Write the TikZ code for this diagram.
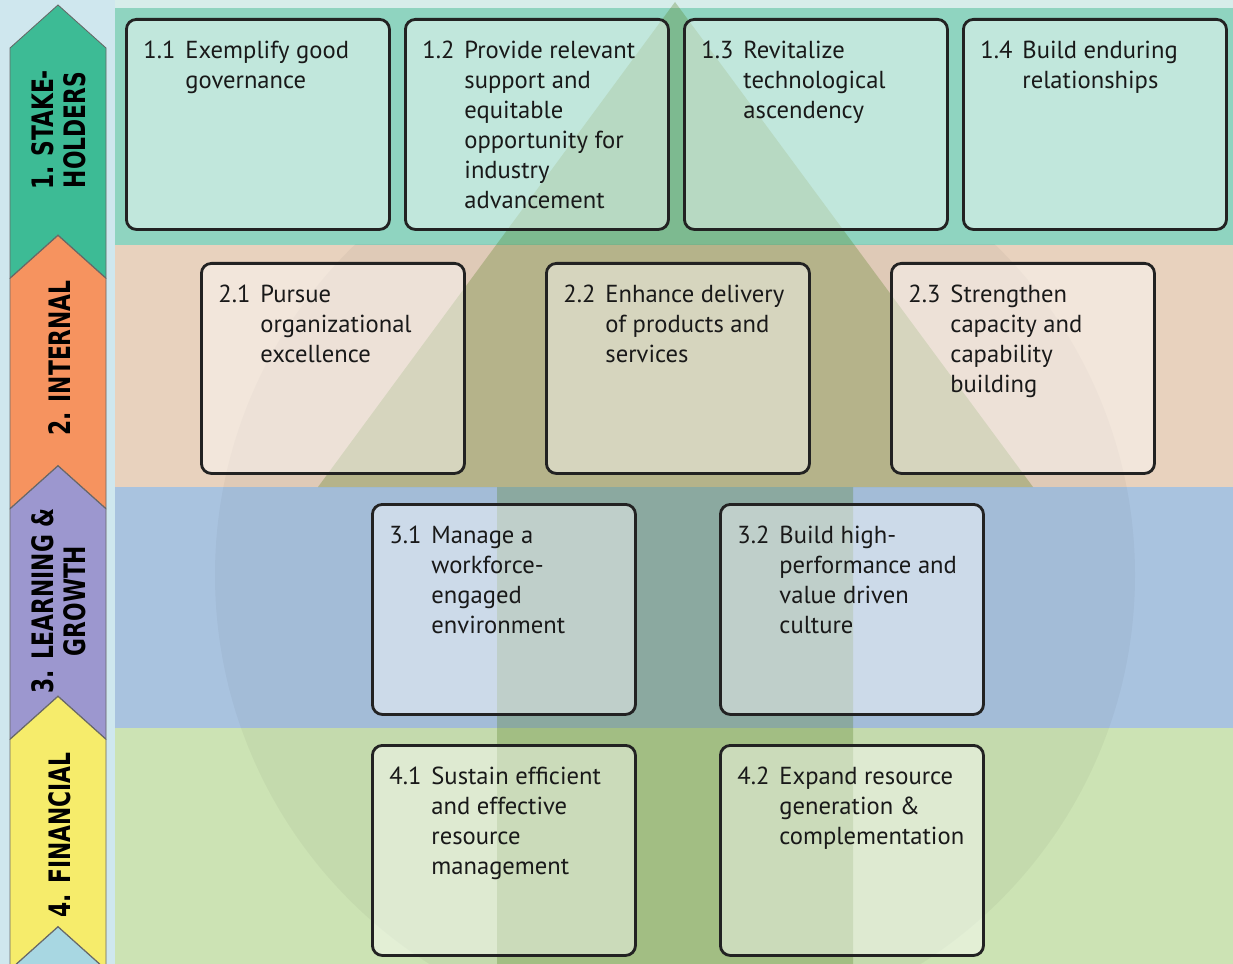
\documentclass[tikz,border=0pt]{standalone}
\usepackage{fontspec}
\setmainfont{PT Sans}
\newfontfamily\chevfont[FakeStretch=0.82]{DejaVu Sans Condensed Bold}

\definecolor{leftbg}{HTML}{CFE7EE}
\definecolor{topstrip}{HTML}{D6EDEA}
\definecolor{bandteal}{HTML}{8FD4C0}
\definecolor{bandtan}{HTML}{E8D2BE}
\definecolor{bandblue}{HTML}{A9C3DF}
\definecolor{bandgreen}{HTML}{CCE3B4}
\definecolor{arrowgreen}{HTML}{557F22}
\definecolor{chevteal}{HTML}{3DBB95}
\definecolor{chevorange}{HTML}{F6935F}
\definecolor{chevpurple}{HTML}{9C97CF}
\definecolor{chevyellow}{HTML}{F6EC6B}
\definecolor{chevblue}{HTML}{A8D7E2}
\definecolor{boxline}{HTML}{222222}

% goal box contents: number, then the text hung beside it
\newcommand{\goal}[2]{%
  \begin{minipage}[t][5.25cm][t]{6.575cm}
    \vspace*{0.45cm}%
    \hspace*{0.425cm}\makebox[1.05cm][l]{#1}\begin{tabular}[t]{@{}l@{}}#2\end{tabular}
  \end{minipage}}

\tikzset{
  goalbox/.style={draw=boxline, line width=2pt, rounded corners=0.25cm,
    fill=white, fill opacity=0.45, text opacity=1, anchor=north west,
    inner sep=0pt, text=black!90, font=\fontsize{17.5}{21.3}\selectfont},
  chevlabel/.style={rotate=90, align=center, text=black,
    font=\chevfont\fontsize{21}{23}\selectfont}
}

\begin{document}
\begin{tikzpicture}[x=0.025cm, y=-0.025cm]
        \clip (0,0) rectangle (1233,964);

        % Background bands
        \fill[leftbg] (0,0) rectangle (115,964);
        \fill[topstrip] (115,0) rectangle (1233,8);
        \fill[bandteal] (115,8) rectangle (1233,245);
        \fill[bandtan] (115,245) rectangle (1233,487);
        \fill[bandblue] (115,487) rectangle (1233,728);
        \fill[bandgreen] (115,728) rectangle (1233,964);

        % Faint globe behind
        \begin{scope}
            \clip (115,245) rectangle (1233,964);
            \fill[black,opacity=0.035] (675,575) circle[radius=460];
        \end{scope}

        % Big upward arrow
        \fill[arrowgreen,opacity=0.3] (675,2) -- (1033,487) -- (853,487) -- (853,964)
            -- (497,964) -- (497,487) -- (318,487) -- cycle;

        % Chevrons on the left
        \foreach \i/\col in {0/chevteal,1/chevorange,2/chevpurple,3/chevyellow,4/chevblue} {
            \pgfmathsetmacro{\a}{5+230.5*\i}
            \filldraw[fill=\col, draw=black!60, line width=0.6pt]
                (58,\a) -- (106,\a+43) -- (106,\a+273) -- (58,\a+230)
                -- (10,\a+273) -- (10,\a+43) -- cycle;
        }
        \node[chevlabel] (stake) at (59,130) {1. STAKE-\\HOLDERS};
        \node[chevlabel] (internal) at (60,358) {2. INTERNAL};
        \node[chevlabel] (learning) at (59,601) {3. LEARNING \&\\GROWTH};
        \node[chevlabel] (financial) at (60,835) {4. FINANCIAL};

        % Stakeholders
        \node[goalbox] (g11) at (125,18) {\goal{1.1}{Exemplify good\\governance}};
        \node[goalbox] (g12) at (404,18) {\goal{1.2}{Provide relevant\\support and\\equitable\\opportunity for\\industry\\advancement}};
        \node[goalbox] (g13) at (683,18) {\goal{1.3}{Revitalize\\technological\\ascendency}};
        \node[goalbox] (g14) at (962,18) {\goal{1.4}{Build enduring\\relationships}};

        % Internal
        \node[goalbox] (g21) at (200,262) {\goal{2.1}{Pursue\\organizational\\excellence}};
        \node[goalbox] (g22) at (545,262) {\goal{2.2}{Enhance delivery\\of products and\\services}};
        \node[goalbox] (g23) at (890,262) {\goal{2.3}{Strengthen\\capacity and\\capability\\building}};

        % Learning & growth
        \node[goalbox] (g31) at (371,503) {\goal{3.1}{Manage a\\workforce-\\engaged\\environment}};
        \node[goalbox] (g32) at (719,503) {\goal{3.2}{Build high-\\performance and\\value driven\\culture}};

        % Financial
        \node[goalbox] (g41) at (371,744) {\goal{4.1}{Sustain efficient\\and effective\\resource\\management}};
        \node[goalbox] (g42) at (719,744) {\goal{4.2}{Expand resource\\generation \&\\complementation}};

    \end{tikzpicture}
\end{document}
